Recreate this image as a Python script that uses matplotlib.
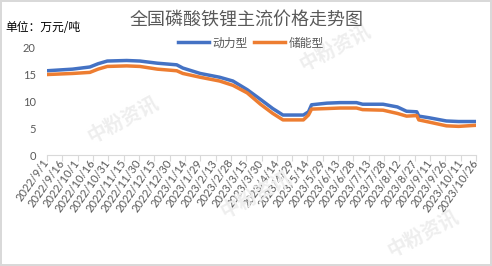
import matplotlib.pyplot as plt
import matplotlib.transforms as mtransforms
import pandas as pd

# price data (万元/吨)
power_dates = ['2022-09-01', '2022-09-26', '2022-10-13', '2022-10-21', '2022-10-30',
               '2022-11-18', '2022-12-01', '2022-12-18', '2023-01-06', '2023-01-12',
               '2023-01-29', '2023-02-17', '2023-03-02', '2023-03-16', '2023-03-29',
               '2023-04-10', '2023-04-20', '2023-05-10', '2023-05-15', '2023-05-18',
               '2023-06-02', '2023-06-15', '2023-07-01', '2023-07-07', '2023-07-27',
               '2023-08-10', '2023-08-19', '2023-08-29', '2023-08-31', '2023-09-10',
               '2023-09-27', '2023-10-09', '2023-10-26']
power_vals = [15.6, 15.9, 16.3, 16.9, 17.4,
              17.5, 17.4, 17.0, 16.7, 16.1,
              15.1, 14.4, 13.7, 12.1, 10.3,
              8.6, 7.4, 7.4, 8.0, 9.3,
              9.6, 9.7, 9.7, 9.4, 9.4,
              8.9, 8.1, 8.0, 7.2, 6.9,
              6.3, 6.2, 6.2]
storage_vals = [14.9, 15.1, 15.3, 15.9, 16.4,
                16.5, 16.4, 15.9, 15.6, 15.1,
                14.4, 13.7, 12.9, 11.5, 9.4,
                7.7, 6.5, 6.5, 7.4, 8.5,
                8.6, 8.7, 8.7, 8.4, 8.3,
                7.7, 7.2, 7.3, 6.5, 6.1,
                5.4, 5.3, 5.5]

tick_dates = pd.date_range('2022-09-01', '2023-10-26', freq='15D')
dates = pd.to_datetime(power_dates)

cjk = ['Noto Sans CJK SC', 'DejaVu Sans']
grey = '#595959'

fig = plt.figure(figsize=(4.92, 2.66), dpi=100, edgecolor='#D9D9D9', linewidth=1.5)
ax = fig.add_axes([47/492, 1-155/266, 429/492, 108/266])

# faint watermarks
for (wx, wy, rot) in [(0.25, 0.55, 28), (0.68, 0.82, 28), (0.52, 0.27, 28), (0.86, 0.12, 28)]:
    fig.text(wx, wy, '中粉资讯', family=cjk, fontsize=14, fontweight='bold',
             color='#EEEEEE', rotation=rot, ha='center', va='center', zorder=0)

ax.plot(dates, power_vals, color='#4472C4', lw=2.5, label='动力型', zorder=3)
ax.plot(dates, storage_vals, color='#ED7D31', lw=2.5, label='储能型', zorder=3)

ax.set_xlim(tick_dates[0], tick_dates[-1])
ax.set_ylim(0, 20)
ax.set_yticks([0, 5, 10, 15, 20])
ax.set_xticks(tick_dates)
ax.set_xticklabels([f'{d.year}/{d.month}/{d.day}' for d in tick_dates],
                   rotation=55, ha='right', va='center', rotation_mode='anchor',
                   fontsize=8, color=grey, family='Lato')
shift = mtransforms.ScaledTranslation(6/100, -15/100, fig.dpi_scale_trans)
for lab in ax.get_xticklabels():
    lab.set_transform(lab.get_transform() + shift)
for lab in ax.get_yticklabels():
    lab.set_family('Lato')
ax.tick_params(axis='y', length=0, labelsize=8, labelcolor=grey, pad=8)
ax.tick_params(axis='x', length=4, color='#D9D9D9', pad=0)
for s in ['top', 'right', 'left']:
    ax.spines[s].set_visible(False)
ax.spines['bottom'].set_color('#D9D9D9')
ax.patch.set_alpha(0)

fig.text(0.502, 0.921, '全国磷酸铁锂主流价格走势图', family=cjk, fontsize=13,
         color=grey, ha='center', va='center')
fig.text(0.01, 0.898, '单位：万元/吨', family=cjk, fontsize=8.5, color='black',
         ha='left', va='center')
fig.legend(loc='center', bbox_to_anchor=(0.51, 0.838), ncol=2, frameon=False,
           prop={'family': cjk, 'size': 8.5}, labelcolor=grey, handlelength=2.6,
           handletextpad=0.3, columnspacing=0.6, borderpad=0)

fig.savefig('out.png', dpi=100)
